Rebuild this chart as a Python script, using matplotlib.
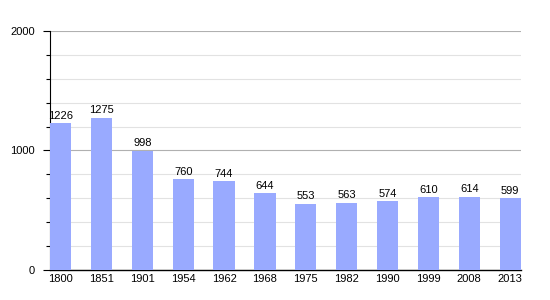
import numpy as np
import matplotlib.pyplot as plt
from matplotlib.ticker import MultipleLocator

plt.rcParams['font.family'] = ['Liberation Sans', 'DejaVu Sans']

# años y población
years = ['1800', '1851', '1901', '1954', '1962', '1968', '1975', '1982', '1990', '1999', '2008', '2013']
population = [1226, 1275, 998, 760, 744, 644, 553, 563, 574, 610, 614, 599]

fig = plt.figure(figsize=(5.5, 3), dpi=100)
ax = fig.add_axes([0.0909, 0.1, 0.856, 0.797])

x = np.arange(len(years))
bars = ax.bar(x, population, width=0.52, color='#99aaff', zorder=3)
for xi, v in zip(x, population):
    ax.text(xi, v + 20, str(v), ha='center', va='bottom', fontsize=8, zorder=4)

ax.set_xlim(-0.26, len(years) - 1 + 0.26)
ax.set_ylim(0, 2000)
ax.set_xticks(x)
ax.set_xticklabels(years, fontsize=8)
ax.set_yticks([0, 1000, 2000])
ax.set_yticklabels(['0', '1000', '2000'], fontsize=8)
ax.yaxis.set_minor_locator(MultipleLocator(200))

ax.grid(axis='y', which='major', color='#b0b0b0', linewidth=0.8, zorder=0)
ax.grid(axis='y', which='minor', color='#e2e2e2', linewidth=0.8, zorder=0)

ax.tick_params(axis='x', length=0, pad=3)
ax.tick_params(axis='y', which='major', length=5, width=0.8, pad=6)
ax.tick_params(axis='y', which='minor', length=3, width=0.8)

for s in ['top', 'right']:
    ax.spines[s].set_visible(False)
ax.spines['left'].set_linewidth(0.8)
ax.spines['bottom'].set_linewidth(1.0)

plt.savefig('out.png')
